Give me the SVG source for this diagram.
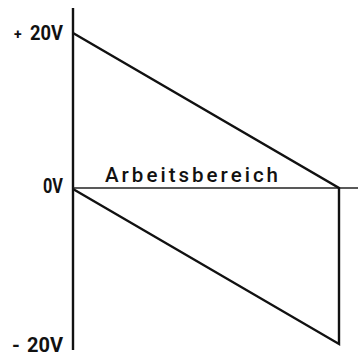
<svg xmlns="http://www.w3.org/2000/svg" width="358" height="356" viewBox="0 0 358 356">
<style>
.ln{stroke:#111;stroke-width:2.4;fill:none;stroke-linejoin:miter}
.thin{stroke:#222;stroke-width:1.4;fill:none}
.lb{font-family:Roboto,"Liberation Sans",Arial,sans-serif;font-weight:bold;font-size:20px;fill:#111}
</style>
<rect width="358" height="356" fill="#fff"/>
<g id="axes">
<line class="ln" x1="73" y1="8" x2="73" y2="350"/>
<line class="thin" x1="73" y1="188" x2="358" y2="188"/>
</g>
<g id="connectors">
<polyline class="ln" points="73,33 339,188 339,344 73,189"/>
</g>
<g id="labels">
<text class="lb" x="14" y="39" style="font-size:14px">+</text>
<text class="lb" x="30" y="40" textLength="33" lengthAdjust="spacingAndGlyphs">20V</text>
<text class="lb" x="43" y="193" textLength="20" lengthAdjust="spacingAndGlyphs">0V</text>
<text class="lb" x="12" y="352">-</text>
<text class="lb" x="27" y="352" textLength="36" lengthAdjust="spacingAndGlyphs">20V</text>
<text class="lb" x="105" y="182" textLength="173" lengthAdjust="spacing" style="font-weight:500;font-size:20.5px">Arbeitsbereich</text>
</g>
</svg>
